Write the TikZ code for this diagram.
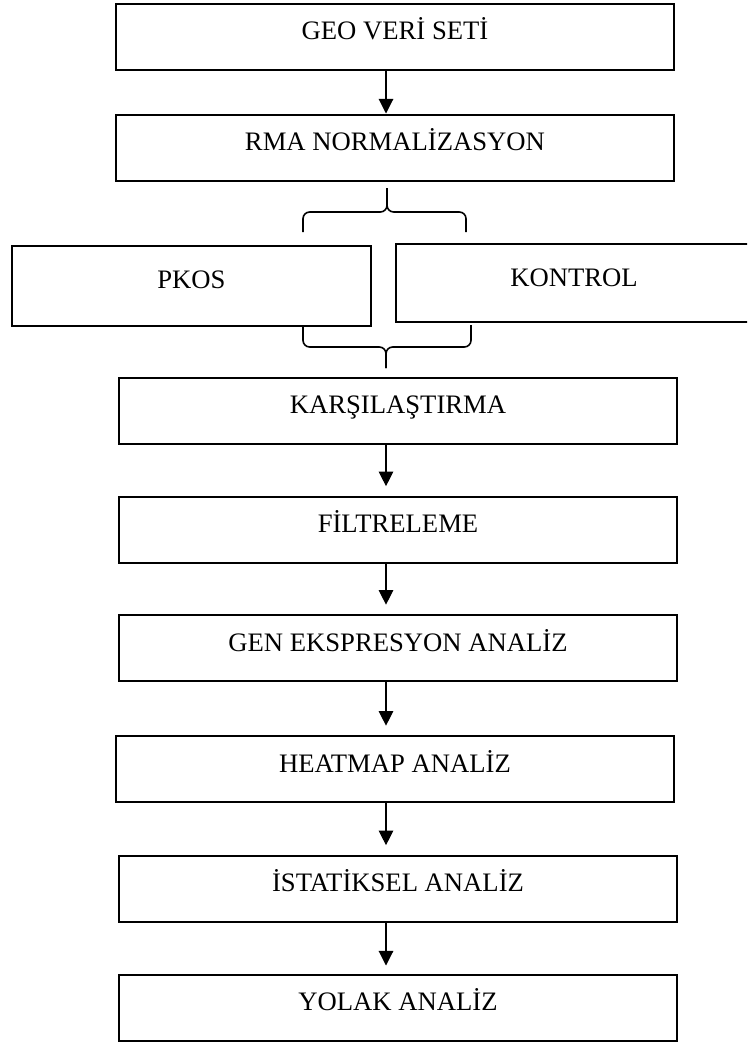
\documentclass[tikz,border=0pt]{standalone}
\usepackage{fontspec}
\setmainfont{Liberation Serif}
\usepackage{tikz}
\usepackage{xcolor}
\usetikzlibrary{arrows.meta,positioning}
\definecolor{ink}{HTML}{000000}
\tikzset{
  stagebox/.style={draw=ink,line width=1.5pt,minimum width=418.5pt,
                   inner xsep=0pt,inner ysep=0pt,text height=27pt,text depth=22.5pt,
                   font=\fontsize{20}{24}\selectfont},
  groupbox/.style={draw=ink,line width=1.5pt,inner xsep=0pt,inner ysep=0pt,
                   font=\fontsize{20}{24}\selectfont},
  flowarr/.style={-{Triangle[length=11pt,width=11pt]},line width=0.8pt,
                  draw=ink},
  bracket/.style={draw=ink,line width=1.2pt,rounded corners=5pt}
}

\begin{document}
\begin{tikzpicture}[x=0.75pt,y=-0.75pt]
    \useasboundingbox (0,0) rectangle (747,1046);
    \clip (0,0) rectangle (747,1046);
    \coordinate (ax) at (386,0);
    \node[stagebox] (geo) at (395,36.5) {GEO VERİ SETİ};
    \node[stagebox] (rma) at (395,147.5) {RMA NORMALİZASYON};
    \node[groupbox,minimum width=269.25pt,text height=31.5pt,text depth=28.5pt]
      (pkos) at (191.5,286) {PKOS};
    \node[groupbox,minimum width=267pt,text height=31.9pt,text depth=26.6pt]
      (kontrol) at (574,283) {KONTROL};
    \node[stagebox] (kars) at (398,410.5) {KARŞILAŞTIRMA};
    \node[stagebox] (filt) at (398,529.5) {FİLTRELEME};
    \node[stagebox] (gen) at (398,648) {GEN EKSPRESYON ANALİZ};
    \node[stagebox] (heat) at (395,769) {HEATMAP ANALİZ};
    \node[stagebox] (istat) at (398,888.5) {İSTATİKSEL ANALİZ};
    \node[stagebox] (yolak) at (398,1007.5) {YOLAK ANALİZ};
    % braces round the two groups
    \coordinate (tbL) at (303,232);
    \coordinate (tbR) at (466,232);
    \coordinate (tbM) at (387,212);
    \coordinate (tbT) at (387,188);
    \draw[bracket] (tbL) |- (tbM) -- (tbT);
    \draw[bracket] (tbR) |- (tbM) -- (tbT);
    \coordinate (bbL) at (303,326);
    \coordinate (bbR) at (471,325);
    \coordinate (bbM) at (386,347);
    \coordinate (bbT) at (386,368);
    \draw[bracket] (bbL) |- (bbM) -- (bbT);
    \draw[bracket] (bbR) |- (bbM) -- (bbT);
    \draw[flowarr] (geo.south -| ax) -- (rma.north -| ax);
    \draw[flowarr,shorten >=7pt] (kars.south -| ax) -- (filt.north -| ax);
    \draw[flowarr,shorten >=7pt] (filt.south -| ax) -- (gen.north -| ax);
    \draw[flowarr,shorten >=7pt] (gen.south -| ax) -- (heat.north -| ax);
    \draw[flowarr,shorten >=7pt] (heat.south -| ax) -- (istat.north -| ax);
    \draw[flowarr,shorten >=6pt] (istat.south -| ax) -- (yolak.north -| ax);
  \end{tikzpicture}
\end{document}
